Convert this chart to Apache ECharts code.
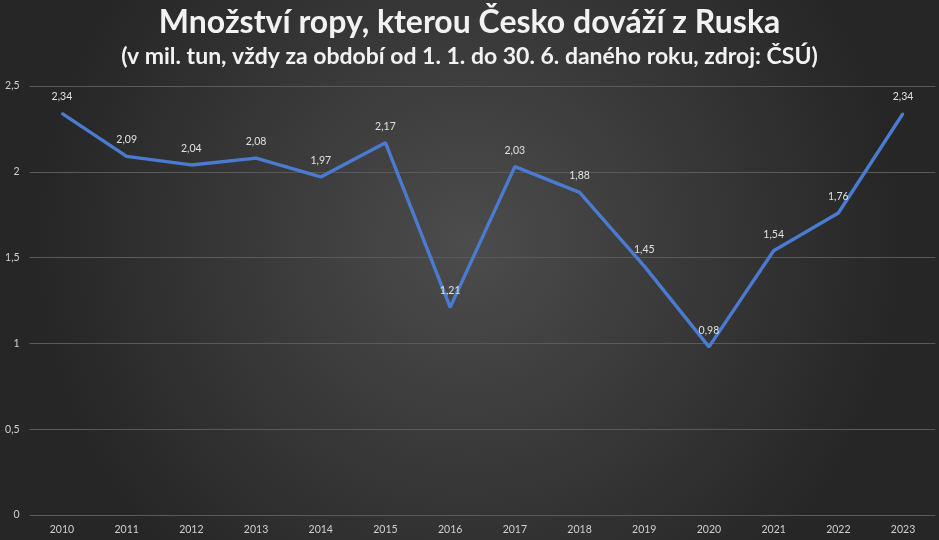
<!DOCTYPE html>
<html><head><meta charset="utf-8">
<script src="https://cdn.jsdelivr.net/npm/echarts@6/dist/echarts.min.js"></script>
<style>html,body{margin:0;padding:0;background:#333;}#c{width:939px;height:540px;}</style>
</head><body><div id="c"></div>
<script>
const years = ['2010','2011','2012','2013','2014','2015','2016','2017','2018','2019','2020','2021','2022','2023'];
const values = [2.34, 2.09, 2.04, 2.08, 1.97, 2.17, 1.21, 2.03, 1.88, 1.45, 0.98, 1.54, 1.76, 2.34];
const titleText = 'Množství ropy, kterou Česko dováží z Ruska';
const subtitleText = '(v mil. tun, vždy za období od 1. 1. do 30. 6. daného roku, zdroj: ČSÚ)';
const fmt = v => String(v).replace('.', ',');
const chart = echarts.init(document.getElementById('c'));
chart.setOption({
  backgroundColor: {
    type: 'radial', x: 0.5, y: 0.45, r: 0.8,
    colorStops: [{offset: 0, color: '#4c4c4c'}, {offset: 1, color: '#262626'}]
  },
  title: {
    text: titleText, subtext: subtitleText, left: 'center', top: 2, itemGap: 6,
    textStyle: {color: '#f2f2f2', fontFamily: 'Lato', fontWeight: 'bold', fontSize: 32},
    subtextStyle: {color: '#f2f2f2', fontFamily: 'Lato', fontWeight: 'bold', fontSize: 23}
  },
  grid: {left: 29.6, right: 3.6, top: 86, bottom: 25, containLabel: false},
  xAxis: {
    type: 'category', data: years, boundaryGap: true,
    axisLine: {show: false}, axisTick: {show: false},
    axisLabel: {color: '#d0d0d0', fontSize: 10.5, fontFamily: 'Lato', margin: 9}
  },
  yAxis: {
    type: 'value', min: 0, max: 2.5, interval: 0.5,
    axisLine: {show: false}, axisTick: {show: false},
    splitLine: {lineStyle: {color: '#5a5a5a', width: 1}},
    axisLabel: {color: '#d0d0d0', fontSize: 10.5, fontFamily: 'Lato', margin: 10, formatter: fmt}
  },
  series: [{
    type: 'line', data: values, symbol: 'circle', symbolSize: 2, showSymbol: true,
    itemStyle: {color: '#4a7bd0', borderWidth: 0},
    lineStyle: {color: '#4a7bd0', width: 3.4},
    label: {show: true, position: 'top', distance: 10, color: '#e0e0e0', fontSize: 10.5, fontFamily: 'Lato', formatter: p => fmt(p.value)}
  }]
});
</script></body></html>
